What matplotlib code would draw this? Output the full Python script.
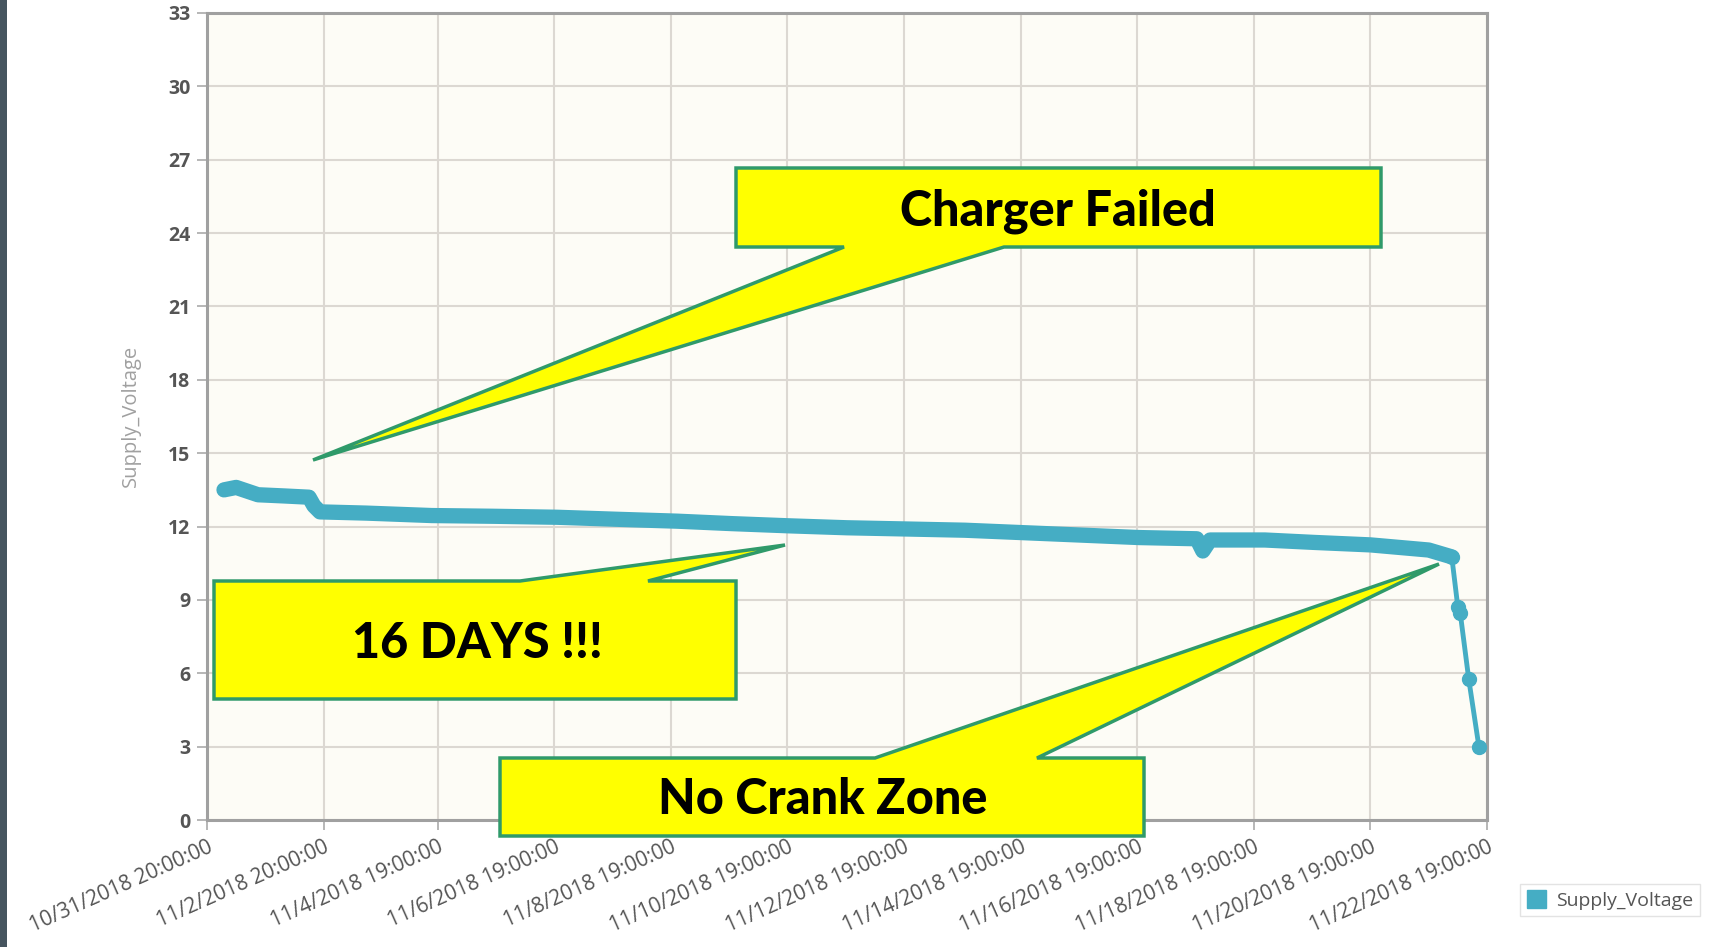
import matplotlib
matplotlib.use("Agg")
import matplotlib.pyplot as plt
from matplotlib.patches import Polygon, Rectangle, Patch
import pandas as pd

# Datos
times = ["2018-11-01 03:00", "2018-11-01 08:00", "2018-11-01 17:00", "2018-11-02 04:00",
         "2018-11-02 14:00", "2018-11-02 16:00", "2018-11-02 18:30", "2018-11-03 13:30",
         "2018-11-04 16:30", "2018-11-05 18:00", "2018-11-06 20:00", "2018-11-07 20:00",
         "2018-11-08 21:30", "2018-11-09 20:00", "2018-11-10 19:30", "2018-11-11 19:30",
         "2018-11-12 20:00", "2018-11-13 20:00", "2018-11-14 20:00", "2018-11-15 20:00",
         "2018-11-16 19:40", "2018-11-17 19:30", "2018-11-17 22:00", "2018-11-18 01:00",
         "2018-11-18 23:30", "2018-11-19 20:00", "2018-11-20 19:00", "2018-11-21 19:00",
         "2018-11-22 04:30", "2018-11-22 07:00", "2018-11-22 08:00", "2018-11-22 11:30",
         "2018-11-22 15:40"]
volts = [13.5, 13.6, 13.3, 13.25,
         13.2, 12.85, 12.6, 12.55,
         12.45, 12.42, 12.38, 12.3,
         12.22, 12.12, 12.03, 11.95,
         11.9, 11.85, 11.75, 11.65,
         11.55, 11.5, 11.0, 11.45,
         11.45, 11.35, 11.25, 11.04,
         10.76, 8.7, 8.45, 5.75,
         3.0]
n_steady = 29  # lecturas antes de la caída

tick_times = ["2018-10-31 20:00", "2018-11-02 20:00", "2018-11-04 19:00", "2018-11-06 19:00",
              "2018-11-08 19:00", "2018-11-10 19:00", "2018-11-12 19:00", "2018-11-14 19:00",
              "2018-11-16 19:00", "2018-11-18 19:00", "2018-11-20 19:00", "2018-11-22 19:00"]
tick_labels = ["10/31/2018 20:00:00", "11/2/2018 20:00:00", "11/4/2018 19:00:00",
               "11/6/2018 19:00:00", "11/8/2018 19:00:00", "11/10/2018 19:00:00",
               "11/12/2018 19:00:00", "11/14/2018 19:00:00", "11/16/2018 19:00:00",
               "11/18/2018 19:00:00", "11/20/2018 19:00:00", "11/22/2018 19:00:00"]
y_ticks = list(range(0, 34, 3))

W, H = 1715, 947
line_color = "#45adc4"
text_gray = "#555555"

t = pd.to_datetime(times)
tt = pd.to_datetime(tick_times)

fig = plt.figure(figsize=(W / 100, H / 100), dpi=100)
fig.patch.set_facecolor("white")

ax = fig.add_axes([207 / W, 1 - 820 / H, 1280 / W, 807 / H])
ax.set_facecolor("#fdfcf6")
ax.set_xlim(tt[0], tt[-1])
ax.set_ylim(0, 33)

ax.plot(t[:n_steady], volts[:n_steady], color=line_color, lw=11,
        solid_capstyle="round", solid_joinstyle="round", zorder=3)
ax.plot(t[n_steady - 1:], volts[n_steady - 1:], color=line_color, lw=3.5,
        marker="o", ms=10, zorder=3)

ax.set_xticks(tt)
ax.set_xticklabels(tick_labels, rotation=24, ha="right", va="top",
                   rotation_mode="anchor", fontsize=15, color=text_gray,
                   family="Open Sans")
ax.set_yticks(y_ticks)
ax.set_yticklabels([str(v) for v in y_ticks], fontsize=14, color=text_gray,
                   family="Open Sans", fontweight="bold")
ax.tick_params(axis="both", length=7, width=1.2, color="#aaaaaa", pad=5)
ax.grid(True, color="#dcd8d2", lw=1.5)
ax.set_axisbelow(True)
for s in ax.spines.values():
    s.set_color("#a0a0a0")
    s.set_linewidth(2.2)

fig.text(131 / W, 1 - 416 / H, "Supply_Voltage", rotation=90, ha="center",
         va="center", fontsize=14.5, color="#a0a0a0", family="Open Sans")

# franja oscura a la izquierda
fig.add_artist(Rectangle((0, 0), 7 / W, 1, transform=fig.transFigure,
                         facecolor="#46555f", edgecolor="none", zorder=1))

# leyenda
fig.legend(handles=[Patch(facecolor=line_color, edgecolor=line_color)],
           labels=["Supply_Voltage"], loc="center",
           bbox_to_anchor=(1610 / W, 1 - 900 / H),
           prop={"family": "Open Sans", "size": 14}, labelcolor=text_gray,
           frameon=True, fancybox=False, edgecolor="#dddddd",
           handlelength=1.0, handleheight=1.0, borderpad=0.35,
           handletextpad=0.5)


def px(x, y):
    return (x / W, 1 - y / H)


def callout(box, base, tip, side):
    x0, y0, x1, y1 = box
    b1, b2 = base
    if side == "bottom":
        pts = [(x0, y0), (x1, y0), (x1, y1), (b2, y1), tip, (b1, y1), (x0, y1)]
    else:
        pts = [(x0, y0), (b1, y0), tip, (b2, y0), (x1, y0), (x1, y1), (x0, y1)]
    fig.add_artist(Polygon([px(*p) for p in pts], closed=True,
                           transform=fig.transFigure, facecolor="#ffff00",
                           edgecolor="#2f9a6a", lw=2.5, zorder=10))


callout((736, 168, 1381, 247), (844, 1004), (313, 460), "bottom")
callout((214, 581, 736, 699), (520, 648), (785, 545), "top")
callout((500, 758, 1144, 836), (875, 1037), (1439, 564), "top")

font_call = dict(family="Lato", fontweight="black", fontsize=35, color="black",
                 ha="center", va="center", zorder=11)
fig.text(*px(1058, 211), "Charger Failed", **font_call)
fig.text(*px(477, 643), "16 DAYS !!!", **font_call)
fig.text(*px(823, 800), "No Crank Zone", **font_call)

fig.savefig("out.png", dpi=100)
